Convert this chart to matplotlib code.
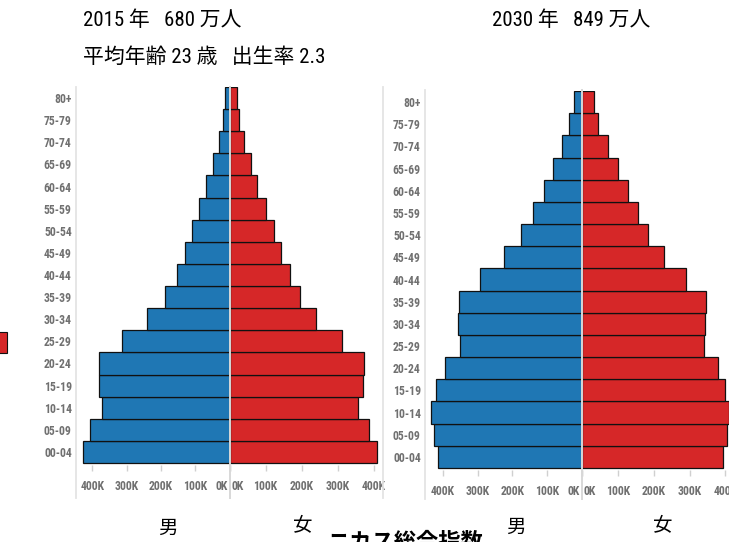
import matplotlib
matplotlib.use("Agg")
import matplotlib.pyplot as plt
from matplotlib import font_manager
from matplotlib.lines import Line2D
from matplotlib.patches import Rectangle
from matplotlib.transforms import ScaledTranslation

# ---------------- data ----------------
age_groups = ["00-04", "05-09", "10-14", "15-19", "20-24", "25-29", "30-34", "35-39",
              "40-44", "45-49", "50-54", "55-59", "60-64", "65-69", "70-74", "75-79", "80+"]
male_2015 = [428, 407, 371, 381, 381, 315, 240, 187, 154, 130, 109, 90, 70, 47, 31, 20, 13]
female_2015 = [409, 388, 357, 369, 373, 311, 240, 195, 169, 143, 123, 100, 77, 59, 39, 26, 21]
male_2030 = [415, 427, 434, 419, 393, 351, 356, 354, 292, 223, 175, 140, 110, 84, 57, 36, 21]
female_2030 = [394, 405, 410, 399, 378, 339, 344, 345, 289, 228, 184, 157, 128, 101, 72, 45, 33]
tick_values = [0, 100, 200, 300, 400]
tick_labels = ["0K", "100K", "200K", "300K", "400K"]
title_2015 = "2015 年   680 万人"
subtitle_2015 = "平均年齢 23 歳   出生率 2.3"
title_2030 = "2030 年   849 万人"
label_male = "男"
label_female = "女"
footer_text = "ニカス総合指数"

# ---------------- fonts ----------------
names = {f.name for f in font_manager.fontManager.ttflist}
narrow = "DejaVu Sans"
for cand in ["Roboto Condensed", "Arial Narrow", "Liberation Sans Narrow",
             "PT Sans Narrow", "Archivo Narrow", "Asap Condensed"]:
    if cand in names:
        narrow = cand
        break
cjk = "Noto Sans CJK JP"
plt.rcParams["font.family"] = [narrow, cjk, "DejaVu Sans"]

W, H = 729, 542
fig = plt.figure(figsize=(W / 100, H / 100), dpi=100)
fig.patch.set_facecolor("white")


def fx(x):
    return x / W


def fy(y):
    return 1 - y / H


BLUE = "#1f77b4"
RED = "#d62728"
GRID = "#e4e4e4"
TICKC = "#707070"


def make_half(x0, x1, ytop, ybar_bottom, ybottom, values, color, left_side, xmax, show_y):
    ax = fig.add_axes([fx(x0), fy(ybottom), (x1 - x0) / W, (ybottom - ytop) / H])
    band = (ybar_bottom - ytop) / len(values)
    extra = (ybottom - ybar_bottom) / band
    ypos = list(range(len(values)))
    ax.barh(ypos, values, height=1.0, color=color, edgecolor="#111111", linewidth=0.9, zorder=2)
    ax.set_ylim(-0.5 - extra, len(values) - 0.5)
    if left_side:
        ax.set_xlim(xmax, 0)
    else:
        ax.set_xlim(0, xmax)
    for s in ax.spines.values():
        s.set_visible(False)
    ax.set_facecolor("none")
    ax.set_xticks(tick_values)
    ax.set_xticklabels(tick_labels)
    ax.tick_params(axis="x", direction="out", length=4, width=1, color="#d0d0d0",
                   labelsize=8.5, labelcolor=TICKC, pad=7)
    for lab in ax.get_xticklabels():
        lab.set_fontweight("bold")
        lab.set_family([narrow, "DejaVu Sans"])
    zero_lab = ax.get_xticklabels()[0]
    if left_side:
        zero_lab.set_ha("right")
        zero_lab.set_transform(zero_lab.get_transform() +
                               ScaledTranslation(-2 / 100, 0, fig.dpi_scale_trans))
    else:
        zero_lab.set_ha("left")
        zero_lab.set_transform(zero_lab.get_transform() +
                               ScaledTranslation(2 / 100, 0, fig.dpi_scale_trans))
    if show_y:
        ax.set_yticks(ypos)
        ax.set_yticklabels(age_groups)
        ax.tick_params(axis="y", length=0, pad=3, labelsize=8.5, labelcolor=TICKC)
        for lab in ax.get_yticklabels():
            lab.set_fontweight("bold")
            lab.set_family([narrow, "DejaVu Sans"])
    else:
        ax.set_yticks([])
    return ax


def vline(x, y0, y1, color=GRID, lw=1.3, z=5):
    fig.add_artist(Line2D([fx(x), fx(x)], [fy(y0), fy(y1)], color=color, lw=lw, zorder=z))


# chart 1 (2015)
c1 = 229.5
make_half(76, c1, 87, 463, 465, male_2015, BLUE, True, 448, True)
make_half(c1, 383.5, 87, 463, 465, female_2015, RED, False, 427, False)
vline(76, 87, 498)
vline(383.5, 87, 498)
vline(c1, 87, 498, color="#d8d8d8", lw=1.4)

# chart 2 (2030)
c2 = 581.7
make_half(425, c2, 91, 468, 470, male_2030, BLUE, True, 451.5, True)
make_half(c2, c2 + 153.5, 91, 468, 470, female_2030, RED, False, 427, False)
vline(425, 90, 499)
vline(c2, 90, 499, color="#d8d8d8", lw=1.4)

# titles
tfam = [narrow, cjk]
fig.text(fx(83), fy(20), title_2015, fontsize=15, family=tfam, va="center", ha="left")
fig.text(fx(83), fy(57), subtitle_2015, fontsize=15, family=tfam, va="center", ha="left")
fig.text(fx(492), fy(20), title_2030, fontsize=15, family=tfam, va="center", ha="left")

# sex labels
for x, y, t in [(168, 528, label_male), (303, 525, label_female),
                (516, 527, label_male), (663, 525, label_female)]:
    fig.text(fx(x), fy(y), t, fontsize=14, family=[cjk], ha="center", va="center")

# footer (cut off by the bottom edge, as in the reference)
fig.text(fx(327), fy(531), footer_text, fontsize=16, family=[cjk], fontweight="bold",
         ha="left", va="top")

# legend fragment at left edge
fig.add_artist(Rectangle((fx(-3), fy(353)), 10 / W, 21 / H, transform=fig.transFigure,
                         facecolor=RED, edgecolor="#111111", lw=0.8))

fig.savefig("out.png", dpi=100, facecolor="white")
